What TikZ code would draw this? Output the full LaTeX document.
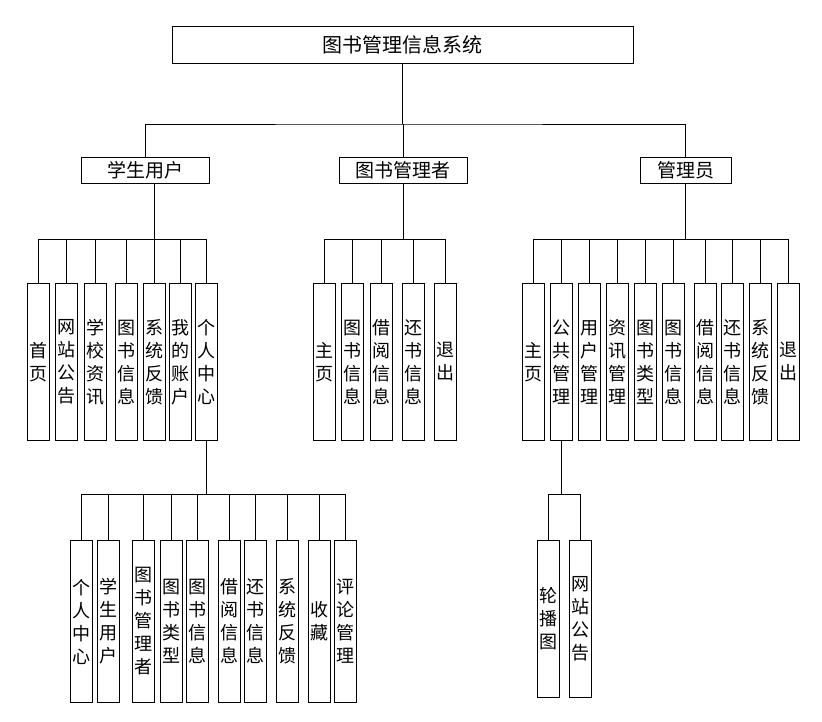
\documentclass[tikz,border=0pt]{standalone}
\usepackage{fontspec}
\newfontfamily\cjk{Noto Sans CJK SC}
\begin{document}
\begin{tikzpicture}[x=1pt,y=-1pt,
  hbox/.style={draw=black,line width=0.9pt,inner sep=0pt,font=\cjk\fontsize{19}{22}\selectfont,minimum height=26pt},
  vbox/.style={draw=black,line width=0.9pt,inner sep=0pt,minimum width=22pt,align=center,font=\cjk\fontsize{18}{23}\selectfont},
  lvA/.style={vbox,minimum height=157.4pt},
  lvB/.style={vbox,minimum height=161.6pt},
  lvC/.style={vbox,minimum height=156.6pt},
  conn/.style={line width=0.8pt}]
\useasboundingbox (0,0) rectangle (822,722);
% top
\node[hbox,minimum width=461pt,minimum height=37pt,font=\cjk\fontsize{20}{24}\selectfont] (root) at (402.5,44.5) {图书管理信息系统};
\node[hbox,minimum width=128pt] (stu) at (145.5,170) {学生用户};
\node[hbox,minimum width=128pt] (lib) at (403,170) {图书管理者};
\node[hbox,minimum width=91pt] (adm) at (685.5,170) {管理员};
% student children
\node[lvA] (s1) at (38.3,362) {首\\页};
\node[lvA] (s2) at (66.3,362) {网\\站\\公\\告};
\node[lvA] (s3) at (95,362) {学\\校\\资\\讯};
\node[lvA] (s4) at (126.7,362) {图\\书\\信\\息};
\node[lvA] (s5) at (154.7,362) {系\\统\\反\\馈};
\node[lvA] (s6) at (180.3,362) {我\\的\\账\\户};
\node[lvA] (s7) at (206.7,362) {个\\人\\中\\心};
% librarian children
\node[lvA] (l1) at (324.3,362) {主\\页};
\node[lvA] (l2) at (352.3,362) {图\\书\\信\\息};
\node[lvA] (l3) at (381,362) {借\\阅\\信\\息};
\node[lvA] (l4) at (413,362) {还\\书\\信\\息};
\node[lvA] (l5) at (445.3,362) {退\\出};
% admin children
\node[lvA] (a1) at (533.7,362) {主\\页};
\node[lvA] (a2) at (561.7,362) {公\\共\\管\\理};
\node[lvA] (a3) at (589.7,362) {用\\户\\管\\理};
\node[lvA] (a4) at (617.7,362) {资\\讯\\管\\理};
\node[lvA] (a5) at (645.7,362) {图\\书\\类\\型};
\node[lvA] (a6) at (673.7,362) {图\\书\\信\\息};
\node[lvA] (a7) at (705,362) {借\\阅\\信\\息};
\node[lvA] (a8) at (732.7,362) {还\\书\\信\\息};
\node[lvA] (a9) at (760.7,362) {系\\统\\反\\馈};
\node[lvA] (a10) at (788.7,362) {退\\出};
% personal center children
\node[lvB] (p1) at (81,621.5) {个\\人\\中\\心};
\node[lvB] (p2) at (108.7,621.5) {学\\生\\用\\户};
\node[lvB] (p3) at (143.7,621.5) {图\\书\\管\\理\\者};
\node[lvB] (p4) at (171.3,621.5) {图\\书\\类\\型};
\node[lvB] (p5) at (197,621.5) {图\\书\\信\\息};
\node[lvB] (p6) at (229.7,621.5) {借\\阅\\信\\息};
\node[lvB] (p7) at (255.3,621.5) {还\\书\\信\\息};
\node[lvB] (p8) at (287,621.5) {系\\统\\反\\馈};
\node[lvB] (p9) at (319.3,621.5) {收\\藏};
\node[lvB] (p10) at (345,621.5) {评\\论\\管\\理};
% public management children
\node[lvC] (c1) at (548.3,619) {轮\\播\\图};
\node[lvC] (c2) at (580.7,619) {网\\站\\公\\告};
% bus levels
\coordinate (y1) at (0,124);
\coordinate (y2) at (0,239.3);
\coordinate (y3) at (0,494.3);
\coordinate (sdown) at (154.5,183);
% root -> level 2
\draw[conn] (root.south) -- (root.south |- y1);
\draw[conn] (stu.north) |- (root.south |- y1) -| (adm.north);
\draw[conn] (lib.north) -- (lib.north |- y1);
% student
\draw[conn] (sdown) -- (sdown |- y2);
\draw[conn] (s1.north) |- (s7.north |- y2) -- (s7.north);
\foreach \n in {s2,s3,s4,s5,s6} \draw[conn] (\n.north) -- (\n.north |- y2);
% librarian
\draw[conn] (lib.south) -- (lib.south |- y2);
\draw[conn] (l1.north) |- (l5.north |- y2) -- (l5.north);
\foreach \n in {l2,l3,l4} \draw[conn] (\n.north) -- (\n.north |- y2);
% admin
\draw[conn] (adm.south) -- (adm.south |- y2);
\draw[conn] (a1.north) |- (a10.north |- y2) -- (a10.north);
\foreach \n in {a2,a3,a4,a5,a6,a7,a8,a9} \draw[conn] (\n.north) -- (\n.north |- y2);
% personal center
\draw[conn] (s7.south) -- (s7.south |- y3);
\draw[conn] (p1.north) |- (p10.north |- y3) -- (p10.north);
\foreach \n in {p2,p3,p4,p5,p6,p7,p8,p9} \draw[conn] (\n.north) -- (\n.north |- y3);
% public management
\draw[conn] (a2.south) -- (a2.south |- y3);
\draw[conn] (c1.north) |- (c2.north |- y3) -- (c2.north);
\end{tikzpicture}
\end{document}
